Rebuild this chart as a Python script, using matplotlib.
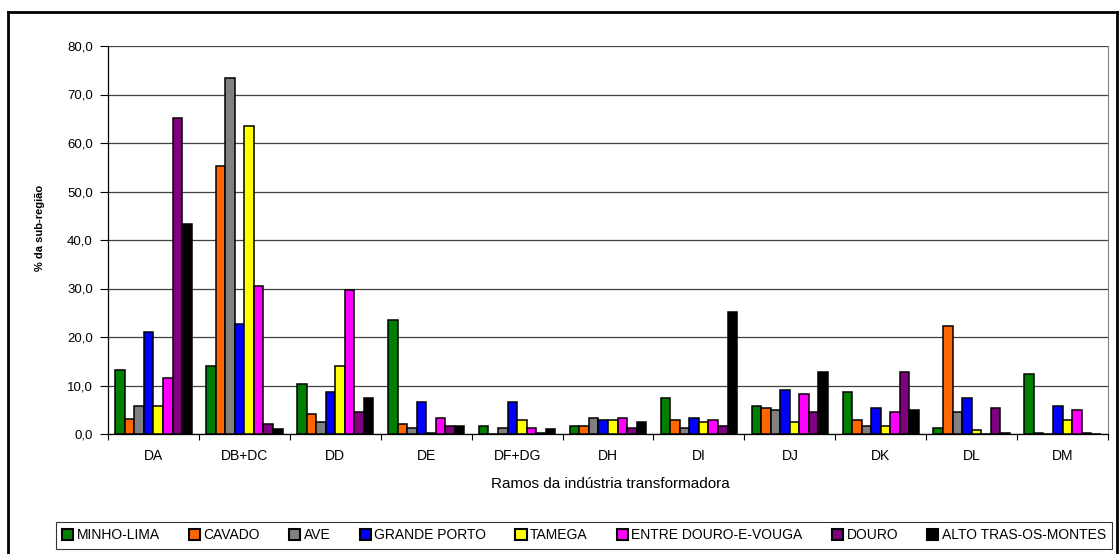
import numpy as np
import matplotlib.pyplot as plt
from matplotlib.lines import Line2D

plt.rcParams['font.family'] = ['Liberation Sans', 'DejaVu Sans']

ramos = ['DA', 'DB+DC', 'DD', 'DE', 'DF+DG', 'DH', 'DI', 'DJ', 'DK', 'DL', 'DM']
regioes = ['MINHO-LIMA', 'CAVADO', 'AVE', 'GRANDE PORTO', 'TAMEGA',
           'ENTRE DOURO-E-VOUGA', 'DOURO', 'ALTO TRAS-OS-MONTES']
cores = ['#008000', '#FF6600', '#808080', '#0000FF', '#FFFF00',
         '#FF00FF', '#800080', '#000000']

# % da sub-regiao por ramo
minho_lima = [13.2, 14.0, 10.3, 23.5, 1.6, 1.6, 7.5, 5.8, 8.7, 1.2, 12.4]
cavado = [3.0, 55.2, 4.1, 2.0, 0.0, 1.6, 2.9, 5.4, 2.9, 22.2, 0.3]
ave = [5.8, 73.3, 2.5, 1.3, 1.3, 3.3, 1.3, 4.9, 1.7, 4.6, 0.0]
grande_porto = [21.0, 22.7, 8.7, 6.6, 6.6, 2.9, 3.3, 9.1, 5.4, 7.5, 5.8]
tamega = [5.8, 63.5, 14.0, 0.3, 2.9, 2.9, 2.5, 2.5, 1.6, 0.8, 2.9]
entre_douro_vouga = [11.6, 30.5, 29.7, 3.3, 1.3, 3.3, 2.9, 8.3, 4.6, 0.0, 4.9]
douro = [65.1, 2.0, 4.5, 1.6, 0.3, 1.3, 1.6, 4.6, 12.8, 5.4, 0.3]
alto_tras_montes = [43.4, 1.0, 7.4, 1.7, 1.0, 2.5, 25.2, 12.8, 5.0, 0.3, 0.0]

series = [minho_lima, cavado, ave, grande_porto, tamega,
          entre_douro_vouga, douro, alto_tras_montes]

W, H = 1119, 554
fig = plt.figure(figsize=(W / 100, H / 100), dpi=100)
ax = fig.add_axes([108 / W, 1 - 434 / H, 1000 / W, 388 / H])

x = np.arange(len(ramos))
largura = 0.105
for i, (vals, nome, cor) in enumerate(zip(series, regioes, cores)):
    ax.bar(x + (i - 3.5) * largura, vals, largura, color=cor,
           edgecolor='black', linewidth=1.1, label=nome, zorder=3)

ax.set_xlim(-0.5, len(ramos) - 0.5)
ax.set_ylim(0, 80)
ax.set_yticks(np.arange(0, 81, 10))
ax.set_yticklabels([f'{v:.1f}'.replace('.', ',') for v in np.arange(0, 81, 10)],
                   fontsize=9.5)
ax.yaxis.grid(True, color='#404040', linewidth=0.9, zorder=0)
ax.tick_params(axis='y', length=6, width=0.8, pad=5)

ax.set_xticks(x)
ax.set_xticklabels(ramos, fontsize=10)
ax.set_xticks(np.arange(-0.5, len(ramos), 1), minor=True)
ax.tick_params(axis='x', which='major', length=0, pad=11)
ax.tick_params(axis='x', which='minor', length=4, width=0.8)

ax.spines['top'].set_visible(False)
ax.spines['right'].set_color('#808080')
ax.spines['left'].set_linewidth(0.9)
ax.spines['bottom'].set_linewidth(0.9)

fig.text(610 / W, 1 - 484 / H, 'Ramos da indústria transformadora',
         ha='center', va='center', fontsize=11)
fig.text(40 / W, 1 - 228 / H, '% da sub-região', rotation=90,
         ha='center', va='center', fontsize=8, fontweight='bold')

leg = fig.legend(loc='upper center', bbox_to_anchor=(584 / W, 1 - 522 / H),
                 ncol=8, fontsize=10, frameon=True, fancybox=False,
                 edgecolor='black', handlelength=0.8, handleheight=0.8,
                 handletextpad=0.25, columnspacing=2.1, borderpad=0.45,
                 borderaxespad=0)
leg.get_frame().set_linewidth(0.8)
for h in leg.legend_handles:
    h.set_linewidth(1.5)

# moldura exterior do grafico
for xs, ys in [([8, 8], [12, H]), ([8, 1117], [12, 12]), ([1117, 1117], [12, H])]:
    fig.add_artist(Line2D([v / W for v in xs], [1 - v / H for v in ys],
                          color='black', linewidth=2, transform=fig.transFigure))

fig.savefig('out.png', dpi=100)
